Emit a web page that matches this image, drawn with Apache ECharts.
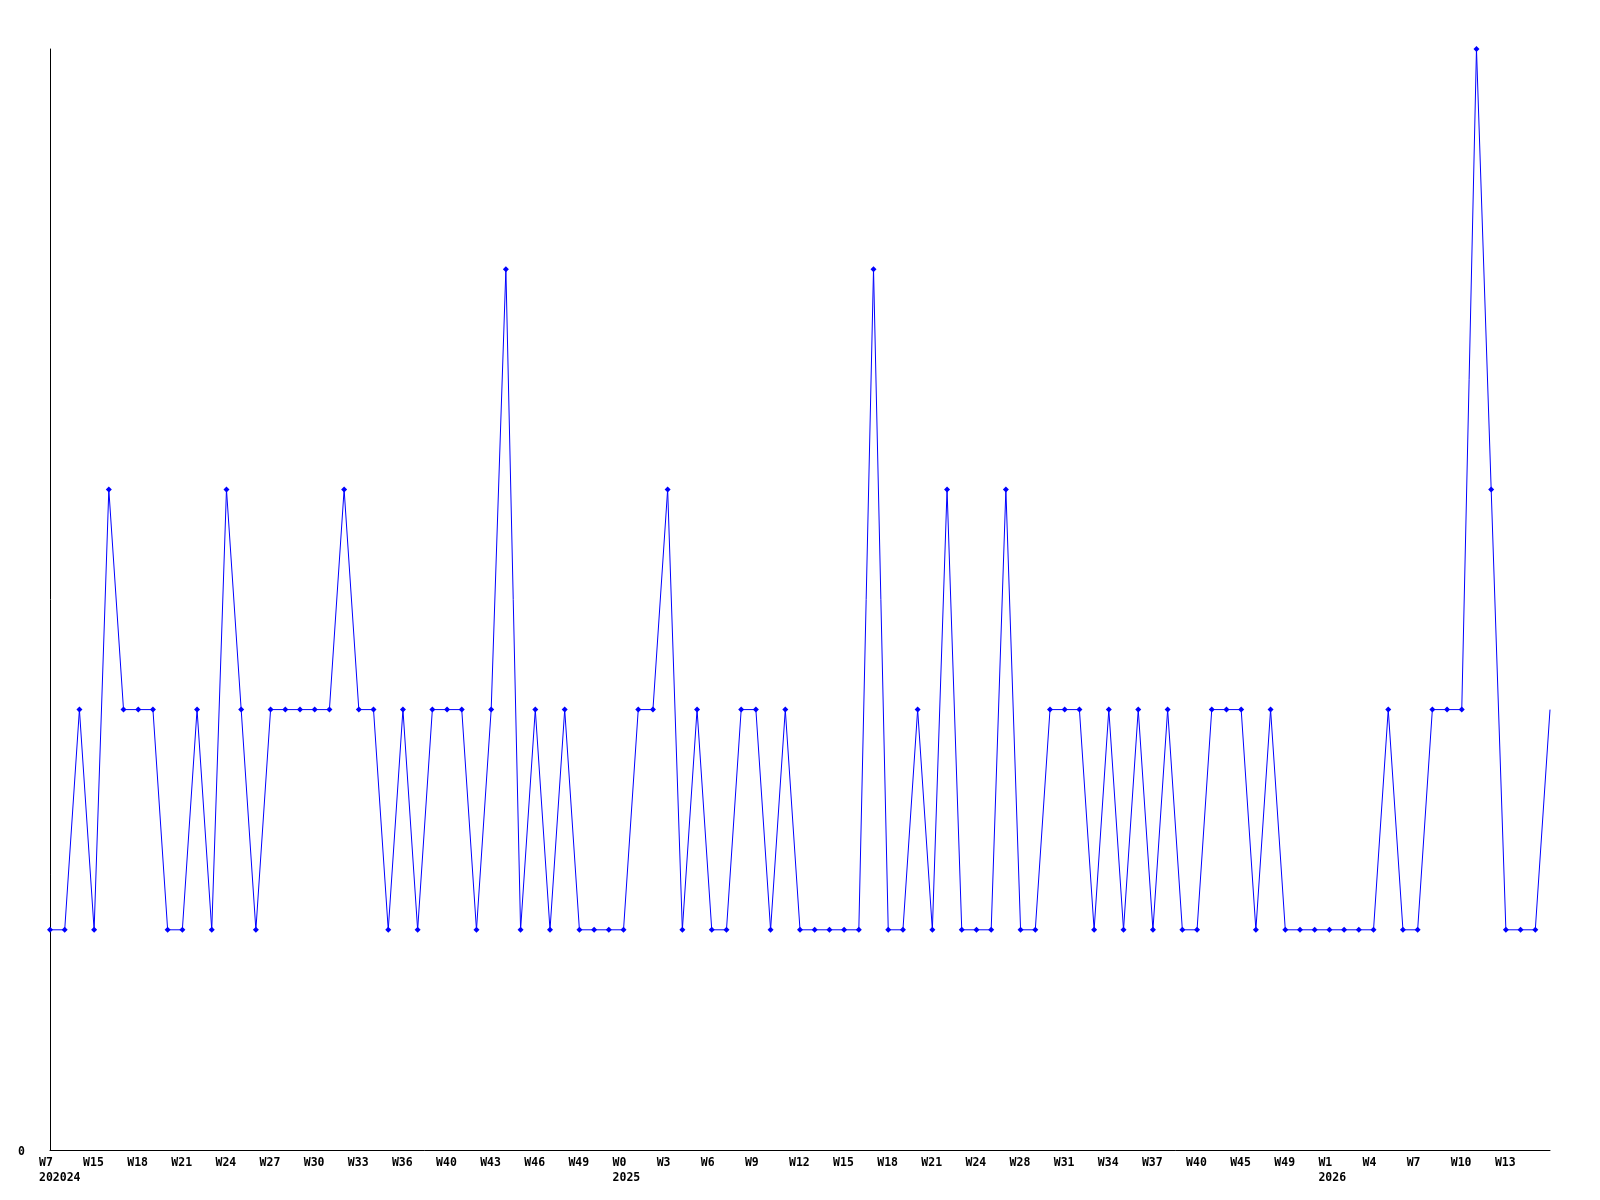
<!DOCTYPE html>
<html>
<head>
<meta charset="utf-8">
<script src="https://cdn.jsdelivr.net/npm/echarts@6/dist/echarts.min.js"></script>
<style>
  html, body { margin: 0; padding: 0; background: #fff; }
  #chart { width: 1600px; height: 1200px; }
</style>
</head>
<body>
<div id="chart"></div>
<script>
// weekly counts, one per point
const counts = [
  1, 1, 2, 1, 3, 2, 2, 2, 1, 1, 2, 1, 3, 2, 1, 2, 2, 2, 2, 2,
  3, 2, 2, 1, 2, 1, 2, 2, 2, 1, 2, 4, 1, 2, 1, 2, 1, 1, 1, 1,
  2, 2, 3, 1, 2, 1, 1, 2, 2, 1, 2, 1, 1, 1, 1, 1, 4, 1, 1, 2,
  1, 3, 1, 1, 1, 3, 1, 1, 2, 2, 2, 1, 2, 1, 2, 1, 2, 1, 1, 2,
  2, 2, 1, 2, 1, 1, 1, 1, 1, 1, 1, 2, 1, 1, 2, 2, 2, 5, 3, 1,
  1, 1, 2
];
// label shown on every third point
const tickLabels = [
  "W7", "W15", "W18", "W21", "W24", "W27", "W30", "W33", "W36", "W40",
  "W43", "W46", "W49", "W0", "W3", "W6", "W9", "W12", "W15", "W18",
  "W21", "W24", "W28", "W31", "W34", "W37", "W40", "W45", "W49", "W1",
  "W4", "W7", "W10", "W13"
];
// second line under some ticks (point index -> text)
const yearLabels = { 0: "202024", 39: "2025", 87: "2026" };

const cats = counts.map((v, i) => String(i));
const seriesData = counts.map((v, i) =>
  i === counts.length - 1 ? { value: v, symbol: "none" } : v
);

const font = {
  fontFamily: "DejaVu Sans Mono",
  fontWeight: "bold",
  fontSize: 11.5,
  color: "#000"
};

const chart = echarts.init(document.getElementById("chart"));
chart.setOption({
  animation: false,
  backgroundColor: "#fff",
  grid: [
    { left: 50, right: 50, top: 49, bottom: 50 },
    // same width, shifted left: carries the left-aligned tick labels
    { left: 39, right: 61, top: 49, bottom: 50 }
  ],
  xAxis: [
    {
      type: "category",
      gridIndex: 0,
      data: cats,
      boundaryGap: false,
      axisLine: { show: true, lineStyle: { color: "#000", width: 1 } },
      axisTick: { show: false },
      axisLabel: { show: false },
      splitLine: { show: false }
    },
    {
      type: "category",
      gridIndex: 1,
      data: cats,
      boundaryGap: false,
      axisLine: { show: false },
      axisTick: { show: false },
      splitLine: { show: false },
      axisLabel: Object.assign({}, font, {
        interval: 2,
        align: "left",
        margin: 6,
        lineHeight: 15,
        formatter: (val, idx) => {
          const t = tickLabels[idx / 3];
          if (t === undefined) return "";
          return yearLabels[idx] ? t + "\n" + yearLabels[idx] : t;
        }
      })
    }
  ],
  yAxis: [
    {
      type: "value",
      gridIndex: 0,
      min: 0,
      max: 5,
      interval: 5,
      axisLine: { show: true, lineStyle: { color: "#000", width: 1 } },
      axisTick: { show: false },
      splitLine: { show: false },
      axisLabel: Object.assign({}, font, {
        margin: 25,
        formatter: v => (v === 0 ? "{z|0}" : ""),
        rich: { z: Object.assign({}, font, { padding: [4, 0, 0, 0] }) }
      })
    },
    {
      type: "value",
      gridIndex: 1,
      min: 0,
      max: 5,
      show: false
    }
  ],
  series: [
    {
      type: "line",
      xAxisIndex: 0,
      yAxisIndex: 0,
      data: seriesData,
      symbol: "diamond",
      symbolSize: 6,
      showAllSymbol: true,
      lineStyle: { color: "#0000ff", width: 1 },
      itemStyle: { color: "#0000ff" },
      emphasis: { disabled: true }
    }
  ]
});
</script>
</body>
</html>
